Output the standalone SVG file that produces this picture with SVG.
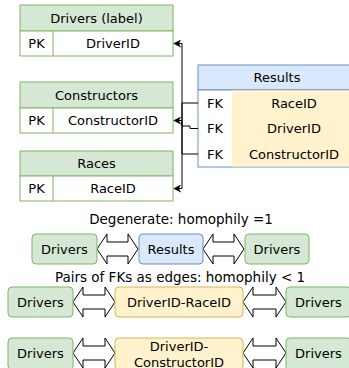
<svg xmlns="http://www.w3.org/2000/svg" width="349" height="368" viewBox="0 0 349 368">
<style>
text{font-family:"DejaVu Sans","Noto Sans",sans-serif;font-size:13px;fill:#000;text-anchor:middle;dominant-baseline:central}
.big{font-size:13.5px}
.g{fill:#d5e8d4;stroke:#82b366;stroke-width:1}
.w{fill:#ffffff;stroke:#82b366;stroke-width:1}
.b{fill:#dae8fc;stroke:#6c8ebf;stroke-width:1}
.bw{fill:#ffffff;stroke:#6c8ebf;stroke-width:1}
.y{fill:#fff2cc;stroke:#d6b656;stroke-width:1}
.yc{fill:#fff2cc;stroke:none}
.c{fill:none;stroke:#000;stroke-width:1}
.da{fill:#fff;stroke:#000;stroke-width:1}
</style>
<defs>
<marker id="arr" viewBox="0 0 10 10" refX="9" refY="5" markerWidth="8" markerHeight="8" orient="auto" markerUnits="userSpaceOnUse">
<path d="M0,0 L10,5 L0,10 L3,5 Z" fill="#000"/>
</marker>
</defs>

<g id="drivers-table">
<rect class="g" x="20" y="5" width="153" height="26"/>
<rect class="w" x="20" y="31" width="153" height="25"/>
<line x1="53" y1="31" x2="53" y2="56" stroke="#82b366"/>
<text x="96.5" y="18">Drivers (label)</text>
<text x="36.5" y="43.5">PK</text>
<text x="113" y="43.5">DriverID</text>
</g>

<g id="constructors-table">
<rect class="g" x="20" y="82" width="153" height="26"/>
<rect class="w" x="20" y="108" width="153" height="25"/>
<line x1="53" y1="108" x2="53" y2="133" stroke="#82b366"/>
<text x="96.5" y="95">Constructors</text>
<text x="36.5" y="120.5">PK</text>
<text x="113" y="120.5">ConstructorID</text>
</g>

<g id="races-table">
<rect class="g" x="20" y="151" width="153" height="25"/>
<rect class="w" x="20" y="176" width="153" height="25"/>
<line x1="53" y1="176" x2="53" y2="201" stroke="#82b366"/>
<text x="96.5" y="163.5">Races</text>
<text x="36.5" y="188.5">PK</text>
<text x="113" y="188.5">RaceID</text>
</g>

<g id="results-table">
<rect class="b" x="198" y="65" width="158" height="25"/>
<rect class="bw" x="198" y="90" width="158" height="77"/>
<rect class="yc" x="232" y="90.5" width="124" height="76"/>
<text x="277" y="77.5">Results</text>
<text x="215" y="103">FK</text>
<text x="294" y="103">RaceID</text>
<text x="215" y="128.5">FK</text>
<text x="294" y="128.5">DriverID</text>
<text x="215" y="154">FK</text>
<text x="294" y="154">ConstructorID</text>
</g>

<g id="connectors">
<path class="c" d="M198,103 L182,103 L182,188.5 L174,188.5" marker-end="url(#arr)"/>
<path class="c" d="M198,128.5 L190,128.5 L190,126 L182,126 L182,43.5 L174,43.5" marker-end="url(#arr)"/>
<path class="c" d="M198,154 L182,154 L182,120.5 L174,120.5" marker-end="url(#arr)"/>
<path class="da" d="M97,249 L107,234 L107,242 L128,242 L128,234 L138,249 L128,264 L128,256 L107,256 L107,264 Z"/>
<path class="da" d="M203,249 L213,234 L213,242 L234,242 L234,234 L244,249 L234,264 L234,256 L213,256 L213,264 Z"/>
<path class="da" d="M73,302 L83,287 L83,295 L105,295 L105,287 L115,302 L105,317 L105,309 L83,309 L83,317 Z"/>
<path class="da" d="M243,302 L253,287 L253,295 L276,295 L276,287 L286,302 L276,317 L276,309 L253,309 L253,317 Z"/>
<path class="da" d="M73,353 L83,338 L83,346 L105,346 L105,338 L115,353 L105,368 L105,360 L83,360 L83,368 Z"/>
<path class="da" d="M243,353 L253,338 L253,346 L276,346 L276,338 L286,353 L276,368 L276,360 L253,360 L253,368 Z"/>
</g>

<text class="big" x="181" y="219">Degenerate: homophily =1</text>
<text class="big" x="180" y="277">Pairs of FKs as edges: homophily &lt; 1</text>

<g id="row1-drivers-left"><rect class="g" x="32" y="234" width="65" height="30" rx="4"/><text x="64.5" y="249">Drivers</text></g>
<g id="row1-results"><rect class="b" x="139" y="234" width="64" height="30" rx="4"/><text x="171" y="249">Results</text></g>
<g id="row1-drivers-right"><rect class="g" x="245" y="234" width="64" height="30" rx="4"/><text x="277" y="249">Drivers</text></g>

<g id="row2-drivers-left"><rect class="g" x="8" y="287" width="65" height="30" rx="4"/><text x="40.5" y="302">Drivers</text></g>
<g id="row2-pair"><rect class="y" x="115" y="287" width="128" height="30" rx="4"/><text x="179" y="302">DriverID-RaceID</text></g>
<g id="row2-drivers-right"><rect class="g" x="286" y="287" width="65" height="30" rx="4"/><text x="318.5" y="302">Drivers</text></g>

<g id="row3-drivers-left"><rect class="g" x="8" y="338" width="65" height="32" rx="4"/><text x="40.5" y="353">Drivers</text></g>
<g id="row3-pair"><rect class="y" x="115" y="338" width="128" height="32" rx="4"/><text x="179" y="346">DriverID-</text><text x="179" y="362">ConstructorID</text></g>
<g id="row3-drivers-right"><rect class="g" x="286" y="338" width="65" height="32" rx="4"/><text x="318.5" y="353">Drivers</text></g>
</svg>
